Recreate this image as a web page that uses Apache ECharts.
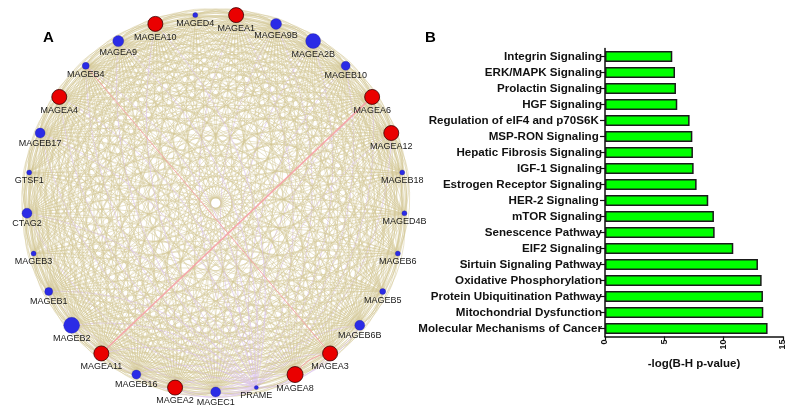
<!DOCTYPE html>
<html>
<head>
<meta charset="utf-8">
<script src="https://cdn.jsdelivr.net/npm/echarts@6/dist/echarts.min.js"></script>
<style>
html,body{margin:0;padding:0;background:#fff;}
#main{width:794px;height:417px;}
</style>
</head>
<body>
<div id="main"></div>
<script>
// ---------- Panel A: network nodes (clockwise from top) ----------
const nodeNames = ['MAGEA1','MAGEA9B','MAGEA2B','MAGEB10','MAGEA6','MAGEA12','MAGEB18','MAGED4B','MAGEB6','MAGEB5','MAGEB6B','MAGEA3','MAGEA8','PRAME','MAGEC1','MAGEA2','MAGEB16','MAGEA11','MAGEB2','MAGEB1','MAGEB3','CTAG2','GTSF1','MAGEB17','MAGEA4','MAGEB4','MAGEA9','MAGEA10','MAGED4'];
const nodeSizes = [15,11,15,9,15,15,5,5,5,6,10,15,16,4,10,15,9,15,16,8,5,10,5,10,15,7,11,15,5];
const redNodes = ['MAGEA1','MAGEA6','MAGEA12','MAGEA3','MAGEA8','MAGEA2','MAGEA11','MAGEA4','MAGEA10'];
// weakly connected genes: not linked to one another
const minorNodes = ['MAGEB18','MAGED4B','MAGEB6','MAGEB5','PRAME','MAGEB3','GTSF1','MAGED4'];
// node whose links are drawn lavender
const lavenderNodes = ['PRAME'];
// highlighted (pink) links
const pinkLinks = [['MAGEA11','MAGEA6'],['MAGEB4','MAGEA3'],['MAGEA8','MAGEA3']];

// ---------- Panel B: pathways ----------
const pathways = ['Integrin Signaling','ERK/MAPK Signaling','Prolactin Signaling','HGF Signaling','Regulation of eIF4 and p70S6K ','MSP-RON Signaling ','Hepatic Fibrosis Signaling','IGF-1 Signaling','Estrogen Receptor Signaling','HER-2 Signaling ','mTOR Signaling','Senescence Pathway','EIF2 Signaling','Sirtuin Signaling Pathway','Oxidative Phosphorylation','Protein Ubiquitination Pathway','Mitochondrial Dysfunction','Molecular Mechanisms of Cancer'];
const pathwayValues = [5.67,5.9,5.98,6.09,7.13,7.36,7.41,7.47,7.72,8.7,9.18,9.24,10.81,12.89,13.2,13.31,13.34,13.7];
const xTicks = [0,5,10,15];

const FONT = "'Liberation Sans', Arial, sans-serif";

const nodes = nodeNames.map((n, i) => {
  const red = redNodes.includes(n);
  return {
    name: n,
    value: [1, i],
    symbolSize: nodeSizes[i],
    itemStyle: red ? {color:'#ea0000', borderColor:'#3a0000', borderWidth:0.8}
                   : {color:'#2b2be6', borderColor:'#1a1a80', borderWidth:0.3}
  };
});

// interactions drawn in both directions (opposite arcs)
const links = [];
for (let i = 0; i < nodeNames.length; i++) {
  for (let j = i + 1; j < nodeNames.length; j++) {
    const a = nodeNames[i], b = nodeNames[j];
    if (minorNodes.includes(a) && minorNodes.includes(b)) continue;
    const lav = lavenderNodes.includes(a) || lavenderNodes.includes(b);
    const style = lav ? {color:'#dcc4ec', width:0.8, opacity:0.85, curveness:0.25}
                      : {color:'#d3c796', width:1, opacity:0.5, curveness:0.25};
    links.push({source:a, target:b, lineStyle:style});
    links.push({source:b, target:a, lineStyle:style});
  }
}
pinkLinks.forEach((p, k) => {
  links.push({source:p[0], target:p[1], lineStyle:{color:'#f5a3a8', width: k===0?1.6:1, opacity:0.95, curveness: k===2?0.25:0}});
});

const chart = echarts.init(document.getElementById('main'), null, {renderer:'canvas'});
chart.setOption({
  animation: false,
  backgroundColor: '#fff',
  title: [
    {text:'A', left:38, top:25, textStyle:{fontSize:15, fontWeight:'bold', color:'#000', fontFamily:FONT}},
    {text:'B', left:420, top:25, textStyle:{fontSize:15, fontWeight:'bold', color:'#000', fontFamily:FONT}}
  ],
  polar: {center:[215.7, 203], radius:189},
  angleAxis: {type:'category', data:nodeNames, startAngle:90, clockwise:true, boundaryGap:true, show:false},
  radiusAxis: {type:'value', min:0, max:1, show:false},
  grid: {left:605, top:48.5, width:178, height:288},
  xAxis: {
    type:'value', min:0, max:15, interval:5,
    axisLine:{show:true, lineStyle:{color:'#111', width:1.5}},
    axisTick:{show:true, length:4, lineStyle:{color:'#111', width:1.2}},
    splitLine:{show:false},
    axisLabel:{rotate:90, margin:3, fontSize:9, fontWeight:'bold', color:'#111', fontFamily:FONT},
    name:'-log(B-H p-value)', nameLocation:'middle', nameGap:20,
    nameTextStyle:{fontSize:11.5, fontWeight:'bold', color:'#111', fontFamily:FONT}
  },
  yAxis: {
    type:'category', data:pathways, inverse:true,
    axisLine:{show:true, lineStyle:{color:'#111', width:1.5}},
    axisTick:{show:true, length:5, alignWithLabel:true, lineStyle:{color:'#111', width:1.2}},
    axisLabel:{margin:3, fontSize:11.6, fontWeight:'bold', color:'#111', fontFamily:FONT}
  },
  series: [
    {
      type:'graph', coordinateSystem:'polar',
      data:nodes, links:links,
      z:2,
      label:{show:true, position:'bottom', distance:1, fontSize:9, color:'#1a1a1a', fontFamily:FONT},
      emphasis:{disabled:true}
    },
    {
      type:'bar', data:pathwayValues, barWidth:11,
      itemStyle:{color:'#00ff00', borderColor:'#1a1a1a', borderWidth:1.5}
    }
  ]
});
</script>
</body>
</html>
